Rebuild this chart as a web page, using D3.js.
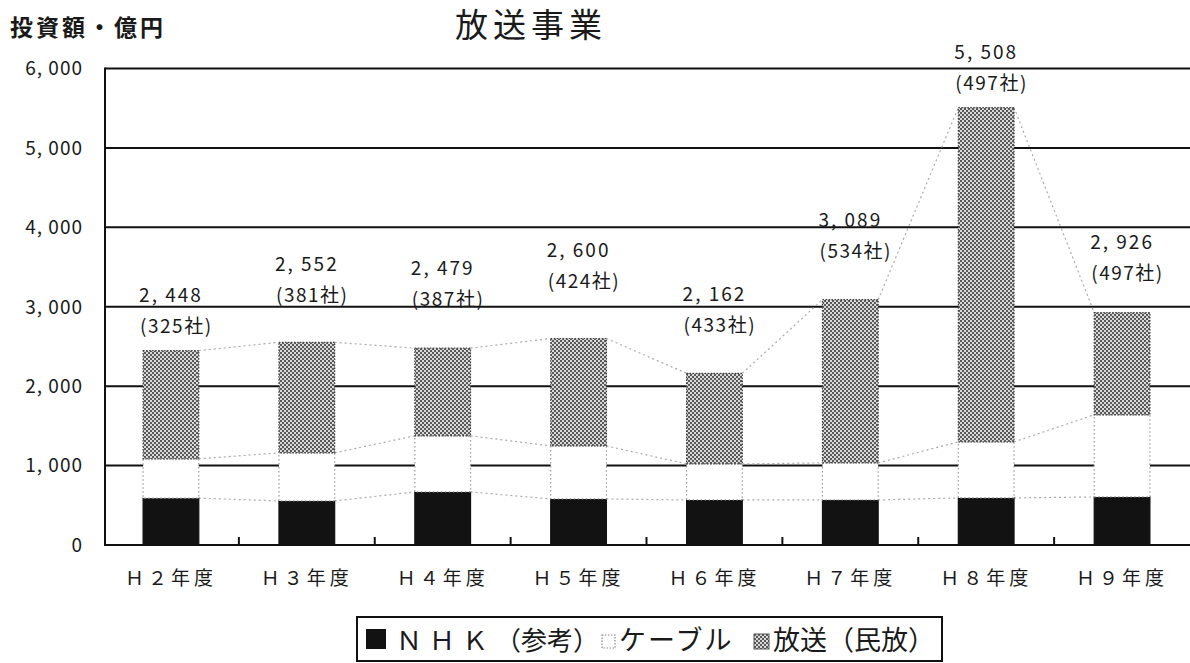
<!DOCTYPE html>
<html>
<head>
<meta charset="utf-8">
<script src="https://cdn.jsdelivr.net/npm/d3@7"></script>
<style>
  body { margin: 0; background: #fff; }
  svg { display: block; }
  text { font-family: "Noto Sans CJK JP", "Noto Sans", sans-serif; fill: #1a1a1a; }
</style>
</head>
<body>
<svg id="chart" width="1190" height="663"></svg>
<script>
// 放送事業の投資額（億円）— 年度別内訳
const years = ["Ｈ２年度", "Ｈ３年度", "Ｈ４年度", "Ｈ５年度", "Ｈ６年度", "Ｈ７年度", "Ｈ８年度", "Ｈ９年度"];
const nhk       = [590, 555, 668, 580, 567, 567, 593, 605];
const cable     = [495, 605, 707, 668, 454, 467, 706, 1034];
const broadcast = [1363, 1392, 1104, 1352, 1141, 2055, 4209, 1287];
const companies = [325, 381, 387, 424, 433, 534, 497, 497];
const yTicks    = [0, 1000, 2000, 3000, 4000, 5000, 6000];

// label lift above each bar top (px), per year
const labelLift = [56, 78, 80, 89, 79, 80, 56, 71];

const keys = ["nhk", "cable", "broadcast"];
const rows = years.map((yr, i) => ({ year: yr, nhk: nhk[i], cable: cable[i], broadcast: broadcast[i] }));

const svg = d3.select("#chart");
const plotL = 105, plotR = 1190, plotT = 68.5, plotB = 545;

const x = d3.scaleBand().domain(years).range([103, 1190]).paddingInner(0.59).paddingOuter(0.295);
const y = d3.scaleLinear().domain([0, 6000]).range([plotB, plotT]);

const fmt = v => d3.format(",")(v).replace(",", ", ");

// dotted fill for 放送(民放)
const defs = svg.append("defs");
const pat = defs.append("pattern").attr("id", "dots").attr("patternUnits", "userSpaceOnUse")
  .attr("width", 4).attr("height", 4);
pat.append("rect").attr("width", 4).attr("height", 4).attr("fill", "#d8d8d8");
pat.append("rect").attr("width", 2).attr("height", 2).attr("fill", "#5a5a5a");
pat.append("rect").attr("x", 2).attr("y", 2).attr("width", 2).attr("height", 2).attr("fill", "#5a5a5a");

// titles
svg.append("text").attr("x", 531).attr("y", 37).attr("text-anchor", "middle")
  .attr("font-size", 33).attr("letter-spacing", 5).text("放送事業");
svg.append("text").attr("x", 10).attr("y", 36)
  .attr("font-size", 23).attr("font-weight", "bold").attr("letter-spacing", 3).text("投資額・億円");

// gridlines
svg.append("g").selectAll("line").data(yTicks.filter(d => d > 0)).join("line")
  .attr("x1", plotL).attr("x2", plotR)
  .attr("y1", d => y(d)).attr("y2", d => y(d))
  .attr("stroke", "#111").attr("stroke-width", 2);

// y tick labels
svg.append("g").selectAll("text").data(yTicks).join("text")
  .attr("x", 83).attr("y", d => y(d)).attr("dy", "0.36em")
  .attr("text-anchor", "end").attr("font-size", 19).attr("letter-spacing", 1)
  .text(d => fmt(d));

// stacked bars
const stacked = d3.stack().keys(keys)(rows);
const bw = x.bandwidth();

// series lines between adjacent bars
stacked.forEach(layer => {
  const segs = d3.pairs(layer.map((d, i) => ({ i, v: d[1] })));
  svg.append("g").selectAll("line").data(segs).join("line")
    .attr("x1", p => x(years[p[0].i]) + bw).attr("y1", p => y(p[0].v))
    .attr("x2", p => x(years[p[1].i])).attr("y2", p => y(p[1].v))
    .attr("stroke", "#aaa").attr("stroke-width", 1.2).attr("stroke-dasharray", "2,3");
});

const style = {
  nhk:       { fill: "#121212", stroke: "#121212", dash: null },
  cable:     { fill: "#ffffff", stroke: "#9a9a9a", dash: "1.5,2.5" },
  broadcast: { fill: "url(#dots)", stroke: "#444", dash: "1.5,1.5" }
};

stacked.forEach(layer => {
  const s = style[layer.key];
  svg.append("g").selectAll("rect").data(layer).join("rect")
    .attr("x", d => x(d.data.year)).attr("width", bw)
    .attr("y", d => y(d[1])).attr("height", d => y(d[0]) - y(d[1]))
    .attr("fill", s.fill).attr("stroke", s.stroke).attr("stroke-width", 1.2)
    .attr("stroke-dasharray", s.dash);
});

// axes frame
svg.append("line").attr("x1", plotL).attr("x2", plotL).attr("y1", plotT - 1).attr("y2", plotB + 1)
  .attr("stroke", "#111").attr("stroke-width", 2);
svg.append("line").attr("x1", plotL - 1).attr("x2", plotR).attr("y1", plotB).attr("y2", plotB)
  .attr("stroke", "#111").attr("stroke-width", 2);
// inner ticks between categories
svg.append("g").selectAll("line").data(years.slice(1)).join("line")
  .attr("x1", d => x(d) - x.step() * x.paddingInner() / 2)
  .attr("x2", d => x(d) - x.step() * x.paddingInner() / 2)
  .attr("y1", plotB).attr("y2", plotB - 8)
  .attr("stroke", "#111").attr("stroke-width", 2);

// category labels
svg.append("g").selectAll("text").data(years).join("text")
  .attr("x", d => x(d) + bw / 2).attr("y", 585)
  .attr("text-anchor", "middle").attr("font-size", 19).attr("letter-spacing", 4)
  .text(d => d);

// totals with company counts
const totals = rows.map(r => r.nhk + r.cable + r.broadcast);
const lab = svg.append("g").selectAll("g").data(rows).join("g")
  .attr("transform", (d, i) => `translate(${x(d.year) - 4},${y(totals[i]) - labelLift[i]})`);
lab.append("text").attr("y", 7).attr("font-size", 19).attr("letter-spacing", 2)
  .text((d, i) => fmt(totals[i]));
lab.append("text").attr("y", 38).attr("x", 1).attr("font-size", 19).attr("letter-spacing", 1.5)
  .text((d, i) => `(${companies[i]}社)`);

// legend
const lg = svg.append("g");
lg.append("rect").attr("x", 357).attr("y", 617).attr("width", 585).attr("height", 44)
  .attr("fill", "#fff").attr("stroke", "#111").attr("stroke-width", 2);
lg.append("rect").attr("x", 366).attr("y", 629).attr("width", 20).attr("height", 20).attr("fill", "#121212");
const t1 = lg.append("text").attr("x", 396).attr("y", 650).attr("font-size", 26);
t1.append("tspan").attr("letter-spacing", 7).text("ＮＨＫ");
t1.append("tspan").text("（参考）");
lg.append("rect").attr("x", 602).attr("y", 635).attr("width", 13).attr("height", 13)
  .attr("fill", "#fff").attr("stroke", "#888").attr("stroke-width", 1.2).attr("stroke-dasharray", "1.5,1.5");
lg.append("text").attr("x", 619).attr("y", 650).attr("font-size", 27).attr("letter-spacing", 2)
  .text("ケーブル");
lg.append("rect").attr("x", 754).attr("y", 634).attr("width", 15).attr("height", 15)
  .attr("fill", "url(#dots)").attr("stroke", "#555").attr("stroke-width", 1);
lg.append("text").attr("x", 773).attr("y", 650).attr("font-size", 27)
  .text("放送（民放）");
</script>
</body>
</html>
